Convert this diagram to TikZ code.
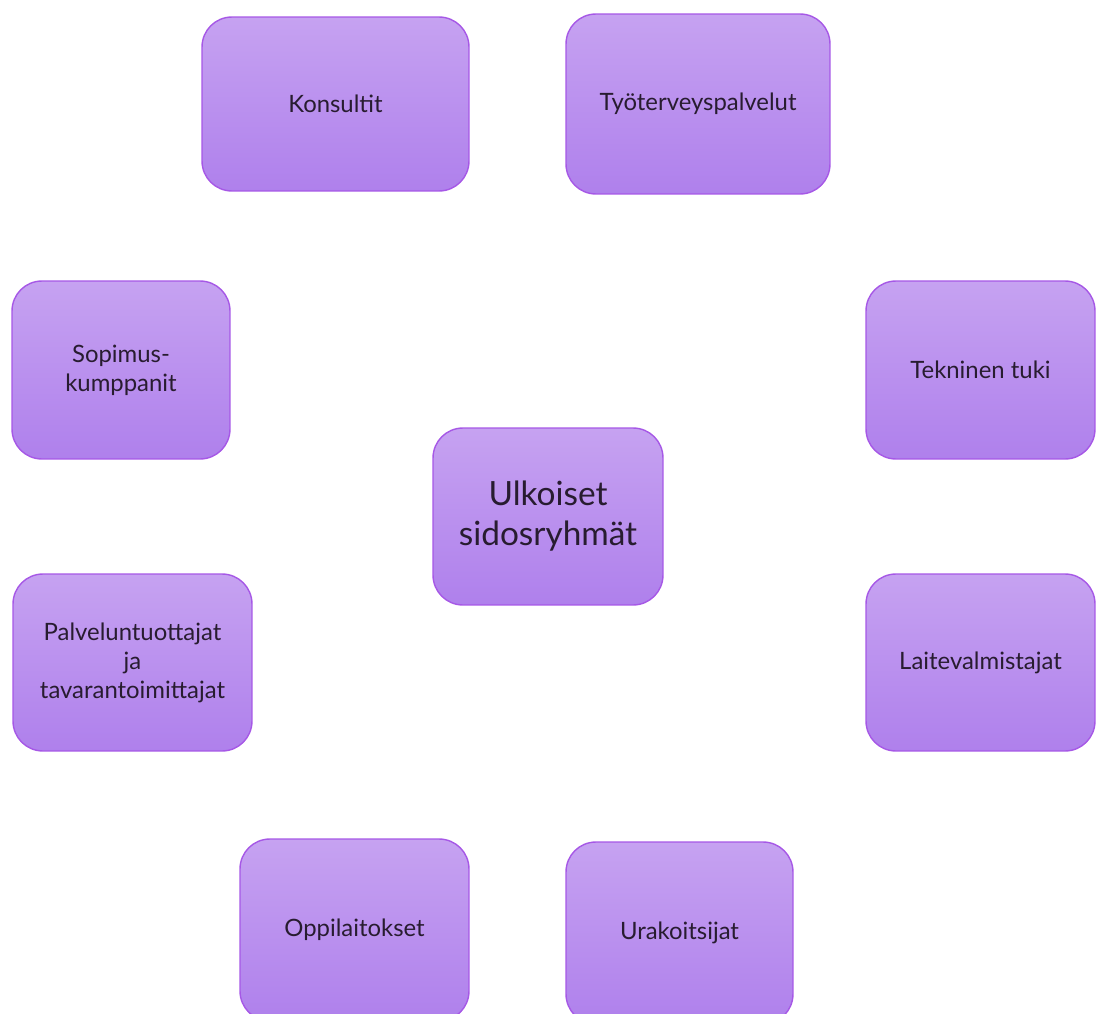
\documentclass[tikz,border=0pt]{standalone}
\usepackage{fontspec}
\setmainfont{Lato}
\usepackage{tikz}
\definecolor{boxtop}{RGB}{198, 162, 241}
\definecolor{boxbottom}{RGB}{175, 128, 236}
\definecolor{boxedge}{RGB}{166, 88, 230}
\definecolor{boxtext}{RGB}{40, 28, 48}

\begin{document}
\begin{tikzpicture}[
  x=0.02cm, y=-0.02cm,
  sbox/.style={draw=boxedge, line width=0.8pt, rounded corners=17pt, top color=boxtop, bottom color=boxbottom, text=boxtext, align=center, inner sep=0pt, font=\fontsize{13.6}{16.5}\selectfont}
]
  \useasboundingbox (0,0) rectangle (1096,1014);
  % centre
  \node[sbox, minimum width=4.6cm, minimum height=3.54cm, font=\fontsize{19}{22.7}\selectfont] (ulkoiset) at (548,516.5) {Ulkoiset\\sidosryhmät};
  % ring of groups
  \node[sbox, minimum width=5.34cm, minimum height=3.48cm] (konsultit) at (335.5,104) {Konsultit};
  \node[sbox, minimum width=5.28cm, minimum height=3.6cm] (tyoterveys) at (698,104) {Työterveyspalvelut};
  \node[sbox, minimum width=4.36cm, minimum height=3.56cm] (sopimus) at (121,370) {Sopimus-\\kumppanit};
  \node[sbox, minimum width=4.58cm, minimum height=3.56cm] (tekninen) at (980.5,370) {Tekninen tuki};
  \node[sbox, minimum width=4.78cm, minimum height=3.54cm] (palvelu) at (132.5,662.5) {Palveluntuottajat\\ja\\tavarantoimittajat};
  \node[sbox, minimum width=4.58cm, minimum height=3.54cm] (laite) at (980.5,662.5) {Laitevalmistajat};
  \node[sbox, minimum width=4.58cm, minimum height=3.64cm] (oppilaitokset) at (354.5,930) {Oppilaitokset};
  \node[sbox, minimum width=4.54cm, minimum height=3.64cm] (urakoitsijat) at (679.5,933) {Urakoitsijat};
\end{tikzpicture}
\end{document}
